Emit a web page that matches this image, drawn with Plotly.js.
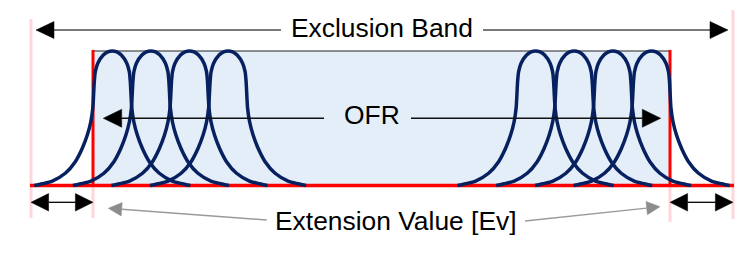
<!DOCTYPE html>
<html>
<head>
<meta charset="utf-8">
<script src="https://cdn.plot.ly/plotly-3.0.1.min.js"></script>
<style>html,body{margin:0;padding:0;background:#fff;}#chart{width:747px;height:259px;}</style>
</head>
<body>
<div id="chart"></div>
<script>
// ---------- data ----------
const leftChannelCenters  = [112.3, 150.9, 189.5, 228.1];
const rightChannelCenters = [535.6, 574.2, 612.9, 651.5];
// one-sided filter response profile: offset from centre vs normalised level
const profileOffset = [0, 4.5, 9, 14.5, 17, 18, 18.7, 19.5, 21.5, 25, 30, 37, 47, 60, 70, 78];
const profileLevel  = [1.0, 0.993, 0.970, 0.909, 0.846, 0.772, 0.673, 0.574, 0.474, 0.375, 0.277, 0.177, 0.091, 0.033, 0.013, 0];
const ofrEdges = [93, 670];
const exclusionEdges = [31, 733];
const labels = ["Exclusion Band", "OFR", "Extension Value [Ev]"];
const labelX = [381.7, 372, 396];
const labelY = [1.168, 0.522, -0.262];
const exclusionArrow = {y: 1.156, tips: [36, 728], gap: [281, 483]};
const ofrArrow = {y: 0.5, tips: [103.3, 660.7], gap: [324, 411]};
const evArrowY = -0.125;
const evPointerTips = [[108.3, -0.1695], [660, -0.1576]];
const evPointerTails = [[266.7, -0.2565], [525, -0.264]];

// ---------- layout constants ----------
const W = 747, H = 259;
const yRange = [-0.5465, 1.3792];
const k = H / (yRange[1] - yRange[0]); // px per y unit

const navy = '#062060', red = '#ff0000', pink = '#ffd6db';

function head(tip, from, L, Hh) {
  const dx = tip[0] - from[0], dy = (tip[1] - from[1]) * k;
  const len = Math.hypot(dx, dy), ux = dx / len, uy = dy / len;
  const bx = tip[0] - ux * L, by = tip[1] * k - uy * L;
  const nx = -uy, ny = ux;
  return {
    x: [tip[0], bx + nx * Hh / 2, bx - nx * Hh / 2, tip[0]],
    y: [tip[1], (by + ny * Hh / 2) / k, (by - ny * Hh / 2) / k, tip[1]],
    base: [bx, by / k]
  };
}

const traces = [];
function seg(x, y, color, width) {
  traces.push({x, y, mode: 'lines', line: {color, width}, hoverinfo: 'skip', showlegend: false, cliponaxis: false});
}
function tri(h, color) {
  traces.push({x: h.x, y: h.y, mode: 'lines', fill: 'toself', fillcolor: color, line: {color, width: 0.5},
    hoverinfo: 'skip', showlegend: false});
}

// filter loops
[...leftChannelCenters, ...rightChannelCenters].forEach(c => {
  const xs = [], ys = [];
  for (let i = profileOffset.length - 1; i > 0; i--) { xs.push(c - profileOffset[i]); ys.push(profileLevel[i]); }
  for (let i = 0; i < profileOffset.length; i++) { xs.push(c + profileOffset[i]); ys.push(profileLevel[i]); }
  traces.push({x: xs, y: ys, mode: 'lines', line: {color: navy, width: 3.5, shape: 'spline', smoothing: 0.7},
    hoverinfo: 'skip', showlegend: false});
});

// Exclusion band arrow
{
  const y = exclusionArrow.y;
  const hl = head([exclusionArrow.tips[0], y], [exclusionArrow.tips[1], y], 18, 17);
  const hr = head([exclusionArrow.tips[1], y], [exclusionArrow.tips[0], y], 18, 17);
  seg([hl.base[0], exclusionArrow.gap[0]], [y, y], '#7a7a7a', 2);
  seg([exclusionArrow.gap[1], hr.base[0]], [y, y], '#7a7a7a', 2);
  tri(hl, '#000'); tri(hr, '#000');
}
// OFR arrow
{
  const y = ofrArrow.y;
  const hl = head([ofrArrow.tips[0], y], [ofrArrow.tips[1], y], 18.4, 18);
  const hr = head([ofrArrow.tips[1], y], [ofrArrow.tips[0], y], 18.4, 18);
  seg([hl.base[0], ofrArrow.gap[0]], [y, y], '#111', 1.3);
  seg([ofrArrow.gap[1], hr.base[0]], [y, y], '#111', 1.3);
  tri(hl, '#000'); tri(hr, '#000');
}
// Extension value double arrows
[[exclusionEdges[0], ofrEdges[0]], [ofrEdges[1], exclusionEdges[1]]].forEach(([a, b]) => {
  const hl = head([a, evArrowY], [b, evArrowY], 17.6, 17.6);
  const hr = head([b, evArrowY], [a, evArrowY], 17.6, 17.6);
  seg([hl.base[0], hr.base[0]], [evArrowY, evArrowY], '#000', 1.3);
  tri(hl, '#000'); tri(hr, '#000');
});
// Extension value pointers (grey)
evPointerTips.forEach((tip, i) => {
  const tail = evPointerTails[i];
  const h = head(tip, tail, 13.4, 13.4);
  seg([tail[0], h.base[0]], [tail[1], h.base[1]], '#9a9a9a', 1.4);
  tri(h, '#8c8c8c');
});

const pinkTop = [1.238, 1.305];
const pinkBottom = [-0.2416, -0.249];
const shapes = [
  {type: 'rect', layer: 'below', x0: ofrEdges[0], x1: ofrEdges[1], y0: 0, y1: 1, fillcolor: '#e3eef9', line: {width: 0}},
  {type: 'line', layer: 'below', x0: ofrEdges[0], x1: ofrEdges[1], y0: 1, y1: 1, line: {color: '#222', width: 1.2}},
  {type: 'line', layer: 'below', x0: exclusionEdges[0], x1: exclusionEdges[0], y0: pinkBottom[0], y1: pinkTop[0], line: {color: pink, width: 3}},
  {type: 'line', layer: 'below', x0: exclusionEdges[1], x1: exclusionEdges[1], y0: pinkBottom[1], y1: pinkTop[1], line: {color: pink, width: 3}},
  {type: 'line', layer: 'below', x0: ofrEdges[0], x1: ofrEdges[0], y0: pinkBottom[0], y1: 0, line: {color: pink, width: 3}},
  {type: 'line', layer: 'below', x0: ofrEdges[1], x1: ofrEdges[1], y0: -0.271, y1: 0, line: {color: pink, width: 3}},
  {type: 'line', layer: 'below', x0: ofrEdges[0], x1: ofrEdges[0], y0: 0, y1: 1.008, line: {color: red, width: 3}},
  {type: 'line', layer: 'below', x0: ofrEdges[1], x1: ofrEdges[1], y0: 0, y1: 1.008, line: {color: red, width: 3}},
  {type: 'line', layer: 'below', x0: exclusionEdges[0] - 1, x1: exclusionEdges[1] + 1, y0: 0, y1: 0, line: {color: red, width: 3.5}}
];

const annotations = labels.map((t, i) => ({
  x: labelX[i], y: labelY[i], text: t, showarrow: false, xanchor: 'center', yanchor: 'middle',
  font: {family: '"Liberation Sans", Arial, sans-serif', size: 26.4, color: '#000'}
}));

const layout = {
  width: W, height: H, margin: {l: 0, r: 0, t: 0, b: 0},
  paper_bgcolor: '#fff', plot_bgcolor: '#fff', showlegend: false,
  xaxis: {range: [0, W], visible: false, fixedrange: true},
  yaxis: {range: yRange, visible: false, fixedrange: true},
  shapes, annotations
};
Plotly.newPlot('chart', traces, layout, {staticPlot: true, displayModeBar: false});
</script>
</body>
</html>
